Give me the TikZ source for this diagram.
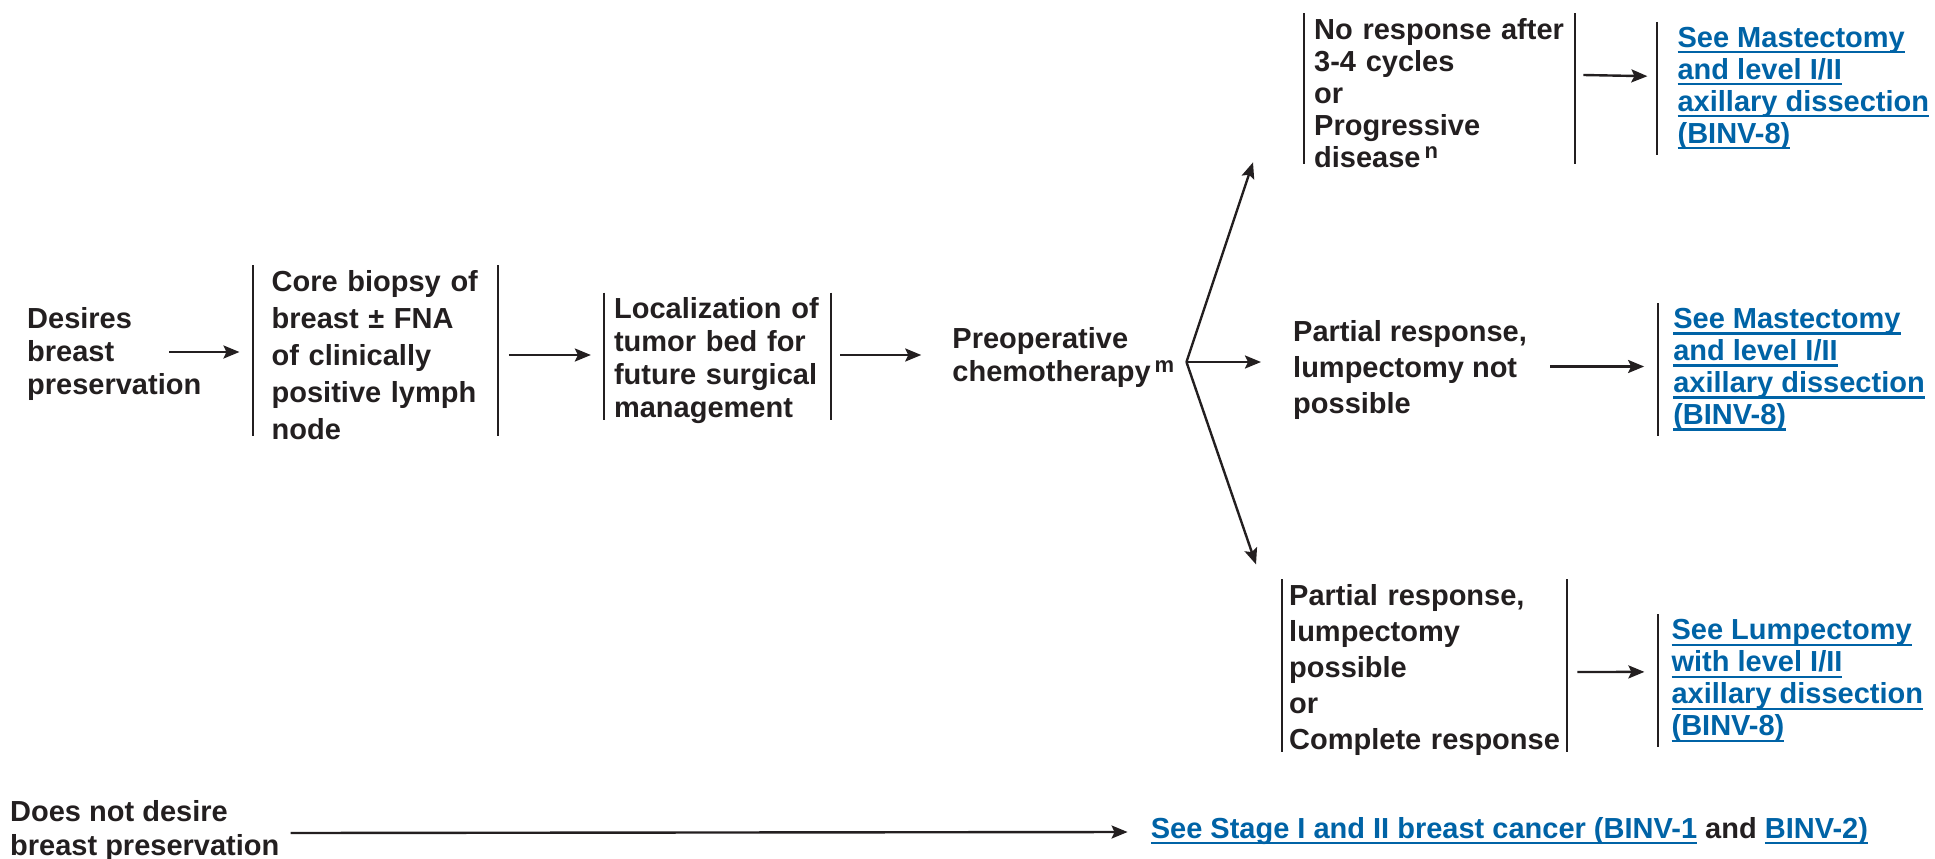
\documentclass[tikz,border=0pt]{standalone}
\usepackage{fontspec}
\setmainfont{Liberation Sans}
\usetikzlibrary{positioning, arrows.meta}

\definecolor{nccnblue}{RGB}{0,99,166}
\definecolor{nccnink}{RGB}{35,31,32}

% underlined link text, one line at a time
\newsavebox{\lnkbox}
\newcommand{\lnk}[1]{{\color{nccnblue}\sbox{\lnkbox}{#1}%
\rlap{\rule[-6pt]{\wd\lnkbox}{2.2pt}}\usebox{\lnkbox}}}
\newcommand{\nodefont}[1]{\fontsize{29}{#1}\selectfont\bfseries}
\newcommand{\fnote}[1]{\kern4pt\raisebox{9pt}{\fontsize{22}{22}\selectfont #1}}

\tikzstyle{txt} = [inner sep=0pt, align=left, text=nccnink, font=\nodefont{33}]
\tikzstyle{sideline} = [draw=nccnink, line width=2pt, shorten >=9pt]
\tikzstyle{bars} = [txt, inner ysep=5pt,
append after command={(\tikzlastnode.north west) edge[sideline] (\tikzlastnode.south west)
(\tikzlastnode.north east) edge[sideline] (\tikzlastnode.south east)}]
\tikzstyle{leftbar} = [txt, inner ysep=5pt,
append after command={(\tikzlastnode.north west) edge[sideline, shorten >=0pt] (\tikzlastnode.south west)}]
\tikzstyle{arrow} = [line width=2.4pt, draw=nccnink, ->,
>={Stealth[length=16pt, width=13pt, inset=3pt]}]

\begin{document}
\begin{tikzpicture}[x=1pt, y=-1pt]
    \useasboundingbox (0,0) rectangle (1935,859);

    % main row
    \node (desires) [txt, anchor=west] at (27,354) {Desires\\breast\\preservation};
    \node (core) [bars, right=52pt of desires, yshift=-1pt, inner xsep=18pt, text width=208pt, font=\nodefont{37}]
        {Core biopsy of\\breast ± FNA\\of clinically\\positive lymph\\node};
    \node (loc) [bars, right=106pt of core, yshift=-6pt, inner xsep=10pt, text width=207pt]
        {Localization of\\tumor bed for\\future surgical\\management};
    \node (chemo) [txt, right=121pt of loc, yshift=4pt, font=\nodefont{33}]
        {Preoperative\\chemotherapy\fnote{m}};
    \coordinate (split) at ([xshift=12pt, yshift=-5pt]chemo.east);

    % responses
    \node (noresp) [bars, anchor=west, inner xsep=10pt, text width=251pt, font=\nodefont{32}] at (1304,93)
        {No response after\\3-4 cycles\\or\\Progressive\\disease\fnote{n}};
    \node (partnot) [txt, anchor=west, font=\nodefont{36}] at (1293,369.5)
        {Partial response,\\lumpectomy not\\possible};
    \node (partposs) [bars, anchor=west, inner xsep=7pt, text width=271pt, font=\nodefont{36}] at (1282,670)
        {Partial response,\\lumpectomy\\possible\\or\\Complete response};

    % links
    \node (mast1) [leftbar, right=82pt of noresp, yshift=4.8pt, inner xsep=20pt, font=\nodefont{32}]
        {\lnk{See Mastectomy}\\\lnk{and level I/II}\\\lnk{axillary dissection}\\\lnk{(BINV-8)}};
    \node (mast2) [leftbar, right=131pt of partnot, inner xsep=15pt, font=\nodefont{32}]
        {\lnk{See Mastectomy}\\\lnk{and level I/II}\\\lnk{axillary dissection}\\\lnk{(BINV-8)}};
    \node (lump) [leftbar, right=91pt of partposs, yshift=-10.6pt, inner xsep=13pt, font=\nodefont{32}]
        {\lnk{See Lumpectomy}\\\lnk{with level I/II}\\\lnk{axillary dissection}\\\lnk{(BINV-8)}};

    % bottom row
    \node (nodesire) [txt, anchor=west, font=\nodefont{34}] at (10,831)
        {Does not desire\\breast preservation};
    \node (stage) [txt, right=871pt of nodesire]
        {\lnk{See Stage I and II breast cancer (BINV-1} and \lnk{BINV-2)}};

    \draw [arrow] ([xshift=-32pt, yshift=2pt]desires.east) -- ([xshift=-14pt, yshift=3pt]core.west);
    \draw [arrow] ([xshift=11pt]core.east) -- ([xshift=-13pt, yshift=6pt]loc.west);
    \draw [arrow] ([xshift=9pt, yshift=6pt]loc.east) -- ([xshift=-31pt, yshift=2pt]chemo.west);
    \draw [arrow] (split) -- ([xshift=-51pt, yshift=10.5pt]noresp.south west);
    \draw [arrow, shorten >=32pt] (split) -- (split -| partnot.west);
    \draw [arrow] (split) -- ([xshift=-26pt, yshift=14.9pt]partposs.north west);
    \draw [arrow] ([xshift=8pt, yshift=18pt]noresp.east) -- ([xshift=-10pt, yshift=12pt]mast1.west);
    \draw [arrow] ([xshift=23pt, yshift=3pt]partnot.east) -- ([xshift=-14pt, yshift=3pt]mast2.west);
    \draw [arrow] ([xshift=10pt, yshift=-2pt]partposs.east) -- ([xshift=-14pt, yshift=8.7pt]lump.west);
    \draw [arrow] ([xshift=11pt, yshift=-2pt]nodesire.east) -- ([xshift=-23pt, yshift=-1pt]stage.west);
\end{tikzpicture}
\end{document}
